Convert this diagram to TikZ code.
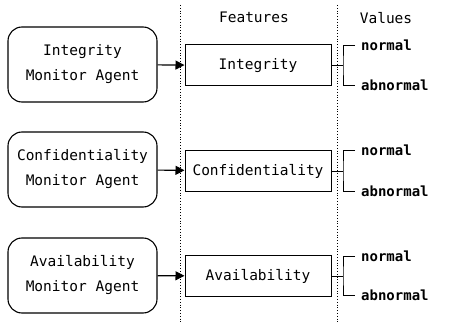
\documentclass[tikz,border=0pt]{standalone}
\usepackage{fontspec}
\newfontfamily\monof{DejaVu Sans Mono}
\usetikzlibrary{arrows.meta}
\begin{document}
\begin{tikzpicture}[x=1pt,y=-1pt,
  font=\monof\fontsize{14.5}{18.5}\selectfont,
  agent/.style={draw,line width=1.1pt,rounded corners=14pt,minimum width=149pt,minimum height=75pt,align=center,inner sep=0pt,font=\monof\fontsize{14.5}{25}\selectfont},
  feat/.style={draw,line width=1pt,minimum width=146pt,minimum height=41pt,inner sep=0pt},
  val/.style={anchor=west,inner xsep=6pt,inner ysep=2pt,font=\monof\bfseries\fontsize{14}{16}\selectfont},
  arr/.style={line width=1.1pt,-{Triangle[length=9pt,width=9pt]}},
  br/.style={line width=0.9pt},
  sep/.style={dotted,line width=0.8pt}]
\useasboundingbox (0,0) rectangle (455,323);
\draw[sep] (180,5) -- (180,323);
\draw[sep] (337,5) -- (337,323);
\node (hf) at (254,17) {Features};
\node (hv) at (386,18) {Values};
\node[agent] (a1) at (82.5,64.5) {Integrity\\Monitor Agent};
\node[agent] (a2) at (82.5,169.5) {Confidentiality\\Monitor Agent};
\node[agent] (a3) at (82.5,275.5) {Availability\\Monitor Agent};
\node[feat] (f1) at (258,65.5) {Integrity};
\node[feat] (f2) at (258,171) {Confidentiality};
\node[feat] (f3) at (258,276) {Availability};
\draw[arr] (a1) -- (f1);
\draw[arr] (a2) -- (f2);
\draw[arr] (a3) -- (f3);
\node[val] (n1) at (355,45) {normal};
\node[val] (b1) at (355,85) {abnormal};
\node[val] (n2) at (355,150) {normal};
\node[val] (b2) at (355,191) {abnormal};
\node[val] (n3) at (355,256) {normal};
\node[val] (b3) at (355,295) {abnormal};
\coordinate (j1) at (343,65.5);
\coordinate (j2) at (343,171);
\coordinate (j3) at (343,276);
\draw[br] (f1.east) -- (j1);
\draw[br] (n1.west) -| (j1) |- (b1.west);
\draw[br] (f2.east) -- (j2);
\draw[br] (n2.west) -| (j2) |- (b2.west);
\draw[br] (f3.east) -- (j3);
\draw[br] (n3.west) -| (j3) |- (b3.west);
\end{tikzpicture}
\end{document}
